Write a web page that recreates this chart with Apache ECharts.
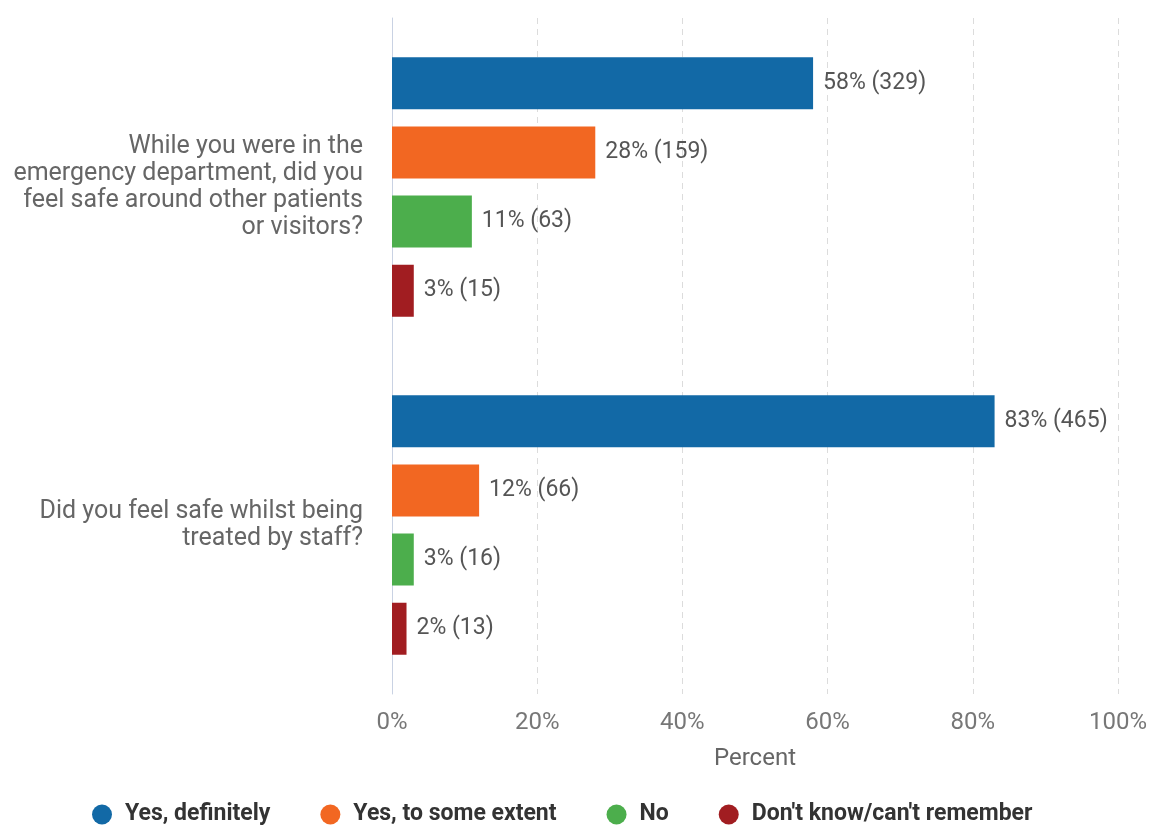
<!DOCTYPE html>
<html>
<head>
<meta charset="utf-8">
<script src="https://cdn.jsdelivr.net/npm/echarts@6/dist/echarts.min.js"></script>
<style>
  html, body { margin: 0; padding: 0; background: #fff; }
  #chart { width: 1154px; height: 825px; }
</style>
</head>
<body>
<div id="chart"></div>
<script>
// Survey questions (one band per question)
const questions = [
  'While you were in the\nemergency department, did you\nfeel safe around other patients\nor visitors?',
  'Did you feel safe whilst being\ntreated by staff?'
];

// Answer options and their colours
const answers = ['Yes, definitely', 'Yes, to some extent', 'No', "Don't know/can't remember"];
const answerColors = ['#1269a6', '#f26722', '#4cae4c', '#a11d21'];

// Percent of respondents per answer, one value per question
const yesDefinitely = [58, 83];
const yesSomeExtent = [28, 12];
const noAnswer = [11, 3];
const dontKnow = [3, 2];

// Respondent counts per answer, one value per question
const yesDefinitelyN = [329, 465];
const yesSomeExtentN = [159, 66];
const noAnswerN = [63, 16];
const dontKnowN = [15, 13];

// Percent axis tick settings
const xMin = 0, xMax = 100, xStep = 20;

const percents = [yesDefinitely, yesSomeExtent, noAnswer, dontKnow];
const counts = [yesDefinitelyN, yesSomeExtentN, noAnswerN, dontKnowN];

const chart = echarts.init(document.getElementById('chart'));

const series = answers.map((name, i) => ({
  name: name,
  type: 'bar',
  barWidth: 52,
  barGap: '33%',
  itemStyle: { color: answerColors[i] },
  label: {
    show: true,
    position: 'right',
    distance: 10,
    color: '#555',
    fontFamily: 'Roboto',
    fontSize: 23,
    formatter: p => p.value + '% (' + counts[i][p.dataIndex] + ')'
  },
  data: percents[i]
}));

chart.setOption({
  animation: false,
  textStyle: { fontFamily: 'Roboto' },
  grid: { left: 392, right: 36, top: 18, bottom: 131, containLabel: false },
  xAxis: {
    type: 'value',
    min: xMin,
    max: xMax,
    interval: xStep,
    name: 'Percent',
    nameLocation: 'middle',
    nameGap: 53,
    nameTextStyle: { color: '#666', fontSize: 24, fontFamily: 'Roboto' },
    axisLine: { show: false },
    axisTick: { show: false },
    axisLabel: {
      color: '#777',
      fontSize: 24,
      margin: 17,
      fontFamily: 'Roboto',
      formatter: v => v + '%'
    },
    splitLine: { show: true, lineStyle: { color: '#dcdcdc', type: [6, 5], width: 1 } }
  },
  yAxis: {
    type: 'category',
    inverse: true,
    data: questions,
    axisLine: { show: true, lineStyle: { color: '#c9d2e3', width: 1 } },
    axisTick: { show: false },
    axisLabel: {
      color: '#666',
      fontSize: 25,
      lineHeight: 27,
      margin: 29,
      align: 'right',
      fontFamily: 'Roboto'
    }
  },
  legend: {
    data: answers,
    top: 798,
    left: 87,
    icon: 'circle',
    itemWidth: 20,
    itemHeight: 21,
    itemGap: 50,
    textStyle: {
      color: '#333',
      fontSize: 23,
      fontWeight: 'bold',
      fontFamily: 'Roboto',
      padding: [0, 0, 0, 8]
    }
  },
  series: series
});
</script>
</body>
</html>
